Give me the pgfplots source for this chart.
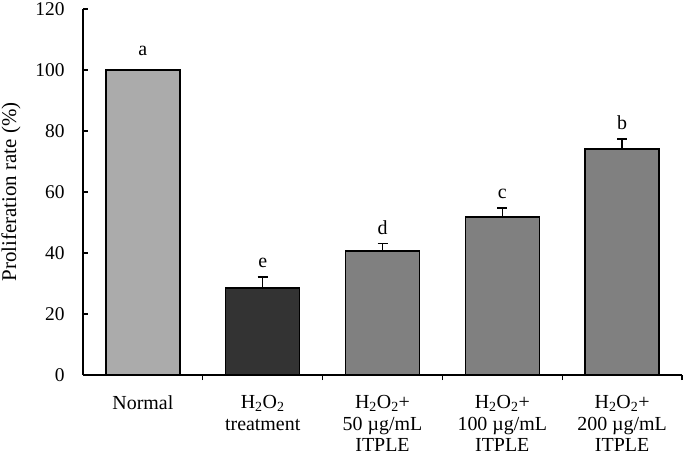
\documentclass[border=0pt]{standalone}
\usepackage{pgfplots}
\pgfplotsset{compat=1.18}
\usepackage{fontspec}
\setmainfont{Liberation Serif}
\definecolor{barlight}{HTML}{ABABAB}
\definecolor{bardark}{HTML}{333333}
\definecolor{barmid}{HTML}{808080}
\newcommand{\lblfont}{\fontsize{20}{21.5}\selectfont}
\begin{document}
\begin{tikzpicture}
\begin{axis}[
scale only axis,
width=599bp, height=366bp,
xmin=-0.5, xmax=4.5,
ymin=0, ymax=120,
ytick={0,20,...,120},
xtick={0.5,1.5,2.5,3.5,4.5},
xticklabels={},
extra x ticks={0,1,2,3,4},
extra x tick labels={Normal,H\textsubscript{2}O\textsubscript{2}\\treatment,H\textsubscript{2}O\textsubscript{2}+\\50 µg/mL\\ITPLE,H\textsubscript{2}O\textsubscript{2}+\\100 µg/mL\\ITPLE,H\textsubscript{2}O\textsubscript{2}+\\200 µg/mL\\ITPLE},
extra x tick style={major tick length=0pt},
xticklabel style={align=center, font=\lblfont, yshift=-17bp},
yticklabel style={font=\fontsize{19.5}{20}\selectfont, xshift=-15bp},
/pgf/number format/assume math mode=true,
axis lines=left,
axis line style={-, line width=1.4bp},
tick align=inside,
major tick length=5bp,
tick style={line width=1.2bp, black},
ylabel={Proliferation rate (\%)},
ylabel style={font=\fontsize{21}{21}\selectfont, yshift=8bp},
ybar, bar width=74bp, bar shift=0pt,
clip=false,
]
\addplot[fill=barlight, draw=black, line width=1.3bp] coordinates {(0,100)};
\addplot[fill=bardark, draw=black, line width=1.3bp,
  error bars/.cd, y dir=plus, y explicit,
  error bar style={line width=1.3bp, black}, error mark options={rotate=90, mark size=5bp, line width=1.3bp, black}]
  coordinates {(1,28.5) +- (0,3.6)};
\addplot[fill=barmid, draw=black, line width=1.3bp,
  error bars/.cd, y dir=plus, y explicit,
  error bar style={line width=1.3bp, black}, error mark options={rotate=90, mark size=5bp, line width=1.3bp, black}]
  coordinates {(2,40.7) +- (0,2.3) (3,51.8) +- (0,3.0) (4,74.1) +- (0,3.3)};
\node[anchor=base, font=\lblfont] at (axis cs:0,104.6) {a};
\node[anchor=base, font=\lblfont] at (axis cs:1,35.2) {e};
\node[anchor=base, font=\lblfont] at (axis cs:2,46.1) {d};
\node[anchor=base, font=\lblfont] at (axis cs:3,57.9) {c};
\node[anchor=base, font=\lblfont] at (axis cs:4,80.5) {b};
\end{axis}
\pgfresetboundingbox
\path (-83bp,-81bp) rectangle (602bp,375bp);
\end{tikzpicture}
\end{document}
